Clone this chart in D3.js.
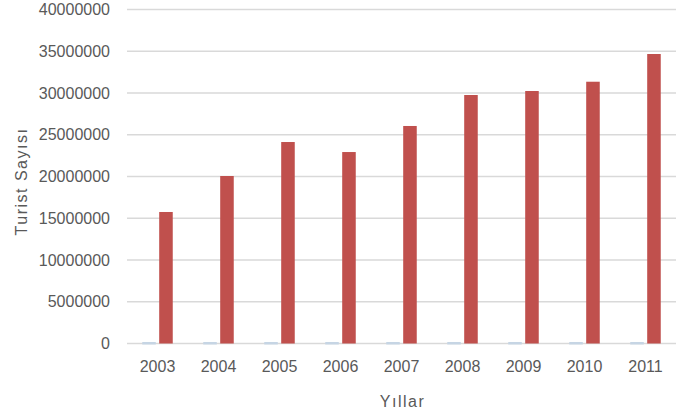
<!DOCTYPE html>
<html>
<head>
<meta charset="utf-8">
<script src="https://cdn.jsdelivr.net/npm/d3@7"></script>
<style>
  body { margin: 0; background: #fff; }
  text { font-family: "Liberation Sans", Arial, sans-serif; fill: #595959; }
</style>
</head>
<body>
<div id="svg-container"></div>
<script>
// data
const years = ["2003", "2004", "2005", "2006", "2007", "2008", "2009", "2010", "2011"];
const yearValues = [2003, 2004, 2005, 2006, 2007, 2008, 2009, 2010, 2011];
const touristCounts = [15750000, 20060000, 24130000, 22930000, 26050000, 29760000, 30240000, 31350000, 34670000];
const yTicks = [0, 5000000, 10000000, 15000000, 20000000, 25000000, 30000000, 35000000, 40000000];

const width = 692;
const height = 419;
const margin = { top: 9.5, right: 16, bottom: 75.5, left: 127 };

const svg = d3.select("#svg-container").append("svg")
  .attr("width", width)
  .attr("height", height);

// scale
const xScale = d3.scaleBand()
  .domain(years)
  .range([margin.left, width - margin.right]);

const xInner = d3.scaleBand()
  .domain(["yil", "turist"])
  .range([0, xScale.bandwidth()])
  .paddingInner(0.2)
  .paddingOuter(0.9);

const yScale = d3.scaleLinear()
  .domain([0, 40000000])
  .range([height - margin.bottom, margin.top]);

// grid
svg.append("g")
  .selectAll("line")
  .data(yTicks)
  .join("line")
  .attr("x1", margin.left)
  .attr("x2", width - margin.right)
  .attr("y1", (d) => yScale(d))
  .attr("y2", (d) => yScale(d))
  .attr("stroke", "#d9d9d9")
  .attr("stroke-width", 1.3);

// y axis labels
const yAxis = d3.axisLeft(yScale).tickValues(yTicks).tickSize(0).tickPadding(17).tickFormat(d3.format("d"));
svg.append("g")
  .attr("transform", `translate(${margin.left},0)`)
  .call(yAxis)
  .call((g) => g.select(".domain").remove())
  .selectAll("text")
  .style("font-size", "16px")
  .attr("fill", "#595959");

// x axis labels
const xAxis = d3.axisBottom(xScale).tickSize(0).tickPadding(17);
svg.append("g")
  .attr("transform", `translate(0,${height - margin.bottom})`)
  .call(xAxis)
  .call((g) => g.select(".domain").remove())
  .selectAll("text")
  .style("font-size", "16px")
  .attr("fill", "#595959");

// bars - yil serisi (cok kucuk)
svg.append("g")
  .selectAll("rect")
  .data(years)
  .join("rect")
  .attr("x", (d) => xScale(d) + xInner("yil"))
  .attr("y", (d, i) => yScale(yearValues[i]) - 1.5)
  .attr("width", xInner.bandwidth())
  .attr("height", (d, i) => yScale(0) - yScale(yearValues[i]) + 2.5)
  .attr("fill", "#c6d5e4");

// bars - turist sayisi
svg.append("g")
  .selectAll("rect")
  .data(years)
  .join("rect")
  .attr("x", (d) => xScale(d) + xInner("turist"))
  .attr("y", (d, i) => yScale(touristCounts[i]))
  .attr("width", xInner.bandwidth())
  .attr("height", (d, i) => yScale(0) - yScale(touristCounts[i]))
  .attr("fill", "#c0504d");

// axis titles
svg.append("text")
  .attr("transform", `translate(27,${(yScale(0) + yScale(40000000)) / 2 + 5}) rotate(-90)`)
  .attr("text-anchor", "middle")
  .style("font-size", "16px")
  .style("letter-spacing", "1.5px")
  .text("Turist Sayısı");

svg.append("text")
  .attr("x", (margin.left + width - margin.right) / 2 + 1)
  .attr("y", 407)
  .attr("text-anchor", "middle")
  .style("font-size", "16px")
  .style("letter-spacing", "1.5px")
  .text("Yıllar");
</script>
</body>
</html>
